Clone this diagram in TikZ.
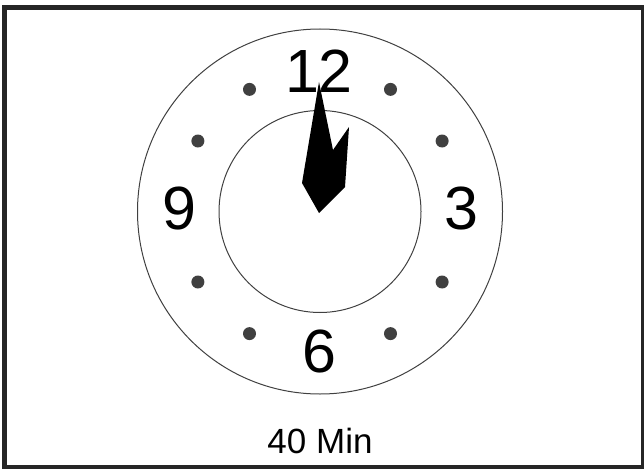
\documentclass[tikz,border=0pt]{standalone}
\usepackage{fontspec}
\setmainfont{Liberation Sans}
\tikzset{
  numlabel/.style={inner sep=0pt, font=\fontsize{61}{70}\selectfont},
  dialline/.style={line width=1pt, draw=black!75},
  hourdot/.style={fill=black!75}
}
\begin{document}
\begin{tikzpicture}[x=1pt, y=-1pt]
        \useasboundingbox (0,0) rectangle (644,468);

        % frame
        \draw[line width=5pt, draw=black!85] (4.5,7.5) rectangle (643.5,467.5);

        % dial
        \coordinate (c) at (320,211.5);
        \draw[dialline] (c) circle (182.5);
        \draw[dialline] (c) circle (101);

        % hour dots
        \fill[hourdot] ([shift={(30:141)}]c) circle (6.5);
        \fill[hourdot] ([shift={(60:141)}]c) circle (6.5);
        \fill[hourdot] ([shift={(120:141)}]c) circle (6.5);
        \fill[hourdot] ([shift={(150:141)}]c) circle (6.5);
        \fill[hourdot] ([shift={(210:141)}]c) circle (6.5);
        \fill[hourdot] ([shift={(240:141)}]c) circle (6.5);
        \fill[hourdot] ([shift={(300:141)}]c) circle (6.5);
        \fill[hourdot] ([shift={(330:141)}]c) circle (6.5);

        % numbers
        \node[numlabel] (n12) at (319,71) {12};
        \node[numlabel] (n3) at (461,208.5) {3};
        \node[numlabel] (n6) at (319,351.5) {6};
        \node[numlabel] (n9) at (179,208) {9};

        % hands
        \fill[black] (319,82) -- (302,183) -- (319,213) -- (345,187) -- (349,127) -- (333,150) -- cycle;

        % caption
        \node[inner sep=0pt, font=\fontsize{35}{40}\selectfont] (caption) at (320,440.5) {40 Min};
    \end{tikzpicture}
\end{document}
